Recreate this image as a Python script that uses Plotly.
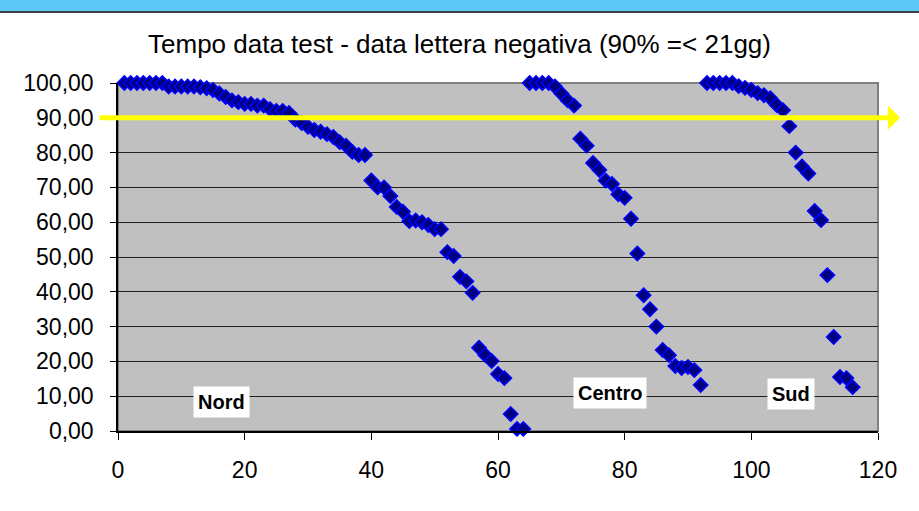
import plotly.graph_objects as go

# Data (x = progressive index, y = % cumulative)
nord_x = list(range(1, 65))
nord_y = [100, 100, 100, 100, 100, 100, 100, 99, 99, 99,
          99, 99, 98.8, 98.5, 98, 97, 96, 95, 94.5, 94,
          94, 93.5, 93.5, 92.5, 92, 92, 91.4, 89.5, 88.5, 87.4,
          86.5, 86, 85.3, 84.5, 83, 82, 80.2, 79.3, 79.3, 72,
          70, 70, 67.5, 64.4, 63, 60.3, 60.5, 60, 59.2, 58,
          58, 51.4, 50.3, 44.3, 43, 39.7, 23.9, 21.8, 20.1, 16.4,
          15.2, 4.9, 0.6, 0.6]

centro_x = list(range(65, 93))
centro_y = [100, 100, 100, 100, 99, 97, 95, 93.5, 84, 82,
            77, 75, 72, 71, 68, 67, 61, 51, 39, 35,
            30, 23.3, 21.8, 18.7, 18.1, 18.4, 17.5, 13.2]

sud_x = list(range(93, 117))
sud_y = [100, 100, 100, 100, 100, 99.1, 98.6, 98, 97.1, 96.5,
         95.6, 93.7, 92.2, 87.6, 80, 76, 74, 63.2, 60.6, 44.8,
         27, 15.5, 15.2, 12.6]

# region labels: (text, x, y)
region_labels = [("Nord", 16.4, 8.3), ("Centro", 77.7, 10.9), ("Sud", 106.3, 10.6)]

THRESHOLD = 90
TITLE = "Tempo data test - data lettera negativa (90% =< 21gg)"

FONT = "Liberation Sans, Arial, sans-serif"

fig = go.Figure()

for xs, ys in [(nord_x, nord_y), (centro_x, centro_y), (sud_x, sud_y)]:
    fig.add_trace(go.Scatter(
        x=xs, y=ys,
        mode='markers',
        marker=dict(symbol='diamond', size=11, color='#000080',
                    line=dict(width=1.5, color='#0000FF')),
        cliponaxis=False,
        showlegend=False,
    ))

for text, lx, ly in region_labels:
    fig.add_annotation(
        x=lx, y=ly, xref='x', yref='y', text=f"<b>{text}</b>",
        showarrow=False, bgcolor='white', borderpad=4,
        font=dict(family=FONT, size=20, color='black'),
    )

# yellow 90% threshold arrow, spanning the plot width
fig.add_annotation(
    x=1.029, y=THRESHOLD, xref='paper', yref='y', text='',
    showarrow=True, ax=-802, ay=0, axref='pixel', ayref='pixel',
    arrowhead=1, arrowsize=0.8, arrowwidth=5, arrowcolor='#FFFF00',
)

# top cyan band of the original frame + dark rule under it
fig.add_shape(type='rect', xref='paper', yref='paper',
              x0=-0.2, x1=1.1, y0=1.2069, y1=1.25,
              fillcolor='#5CC8F5', line=dict(width=0), layer='below')
fig.add_shape(type='line', xref='paper', yref='paper',
              x0=-0.2, x1=1.1, y0=1.2040, y1=1.2040,
              line=dict(color='#404040', width=2))

# plot area border (top/right gray)
fig.add_shape(type='rect', xref='paper', yref='paper', x0=0, x1=1, y0=0, y1=1,
              line=dict(color='#808080', width=2), layer='below')

fig.update_layout(
    width=919, height=511,
    margin=dict(l=118, r=41, t=83, b=80),
    title=dict(text=TITLE, x=0.5, xref='container', xanchor='center',
               y=1 - 44 / 511, yref='container', yanchor='middle',
               font=dict(family=FONT, size=26, color='black')),
    plot_bgcolor='#C0C0C0',
    paper_bgcolor='white',
    separators=',.',
    font=dict(family=FONT, color='black'),
)

fig.update_xaxes(
    range=[0, 120], tickvals=[0, 20, 40, 60, 80, 100, 120],
    showgrid=False, zeroline=False,
    showline=True, linecolor='black', linewidth=1.5,
    ticks='outside', ticklen=7, tickcolor='black', tickwidth=1,
    ticklabelstandoff=11,
    tickfont=dict(family=FONT, size=23, color='black'),
)
fig.update_yaxes(
    range=[0, 100], tickvals=list(range(0, 101, 10)), tickformat='.2f',
    showgrid=True, gridcolor='#202020', gridwidth=1, zeroline=False,
    showline=True, linecolor='black', linewidth=1.5,
    ticks='outside', ticklen=6, tickcolor='black', tickwidth=1,
    ticklabelstandoff=12,
    tickfont=dict(family=FONT, size=23, color='black'),
)

# the page body has a default 8px margin; drop it so the figure sits at 0,0
fig.write_html("out.html", config={'displayModeBar': False},
               post_script="document.body.style.margin='0';")
